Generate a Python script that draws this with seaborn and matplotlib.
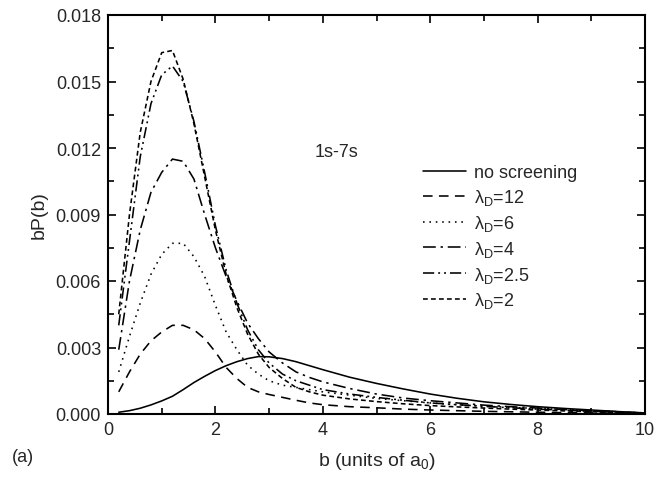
import numpy as np
import pandas as pd
import matplotlib
matplotlib.use("Agg")
import matplotlib.pyplot as plt
import seaborn as sns
from matplotlib.ticker import MultipleLocator, FormatStrFormatter

b = [0.2, 0.4, 0.6, 0.8, 1.0, 1.2, 1.4, 1.6, 1.8, 2.0, 2.2, 2.4, 2.6, 2.8, 3.0,
     3.25, 3.5, 3.75, 4.0, 4.5, 5.0, 5.5, 6.0, 6.5, 7.0, 7.5, 8.0, 8.5, 9.0, 9.5, 10.0]

no_screening = [0.00008, 0.00015, 0.00026, 0.00041, 0.00059, 0.00080, 0.00110, 0.00142, 0.00170,
                0.00196, 0.00218, 0.00236, 0.00250, 0.00259, 0.00258, 0.00250, 0.00236, 0.00218,
                0.00200, 0.00166, 0.00138, 0.00113, 0.00090, 0.00071, 0.00055, 0.00043, 0.00033,
                0.00025, 0.00018, 0.00011, 0.00004]
lam12 = [0.0010, 0.0019, 0.0027, 0.0033, 0.0037, 0.0040, 0.0040, 0.0038, 0.0034, 0.0028,
         0.0021, 0.0016, 0.0012, 0.00100, 0.00088, 0.00075, 0.00062, 0.00050, 0.00042, 0.00033,
         0.00028, 0.00022, 0.00018, 0.00015, 0.00012, 0.00010, 0.00008, 0.00006, 0.00005,
         0.00004, 0.00003]
lam6 = [0.0019, 0.0035, 0.0050, 0.0063, 0.0072, 0.0077, 0.0077, 0.0071, 0.0062, 0.0049,
        0.0037, 0.0029, 0.0022, 0.0018, 0.0015, 0.0013, 0.0012, 0.0011, 0.0010, 0.00085,
        0.00070, 0.00060, 0.00050, 0.00042, 0.00035, 0.00030, 0.00025, 0.00020, 0.00015,
        0.00010, 0.00005]
lam4 = [0.0029, 0.0060, 0.0083, 0.0100, 0.0109, 0.0115, 0.0114, 0.0106, 0.0090, 0.0075,
        0.0062, 0.0051, 0.0041, 0.0034, 0.0028, 0.0023, 0.0019, 0.00165, 0.00145, 0.00115,
        0.00090, 0.00072, 0.00060, 0.00050, 0.00040, 0.00033, 0.00027, 0.00020, 0.00015,
        0.00010, 0.00005]
lam25 = [0.0040, 0.0078, 0.0116, 0.0140, 0.0153, 0.0157, 0.0150, 0.0132, 0.0109, 0.0085,
         0.0065, 0.0050, 0.0038, 0.0029, 0.0023, 0.0018, 0.0015, 0.0013, 0.0011, 0.00090,
         0.00075, 0.00062, 0.00050, 0.00042, 0.00035, 0.00028, 0.00022, 0.00017, 0.00012,
         0.00008, 0.00004]
lam2 = [0.0045, 0.0090, 0.0127, 0.0150, 0.0163, 0.0164, 0.0151, 0.0131, 0.0107, 0.0083,
        0.0063, 0.0048, 0.0036, 0.0027, 0.0021, 0.0016, 0.0012, 0.0010, 0.00085, 0.00068,
        0.00056, 0.00046, 0.00038, 0.00032, 0.00027, 0.00022, 0.00018, 0.00014, 0.00010,
        0.00007, 0.00004]

labels = ["no screening", "λ$_{\\mathrm{D}}$=12", "λ$_{\\mathrm{D}}$=6",
          "λ$_{\\mathrm{D}}$=4", "λ$_{\\mathrm{D}}$=2.5", "λ$_{\\mathrm{D}}$=2"]
series = [no_screening, lam12, lam6, lam4, lam25, lam2]
styles = ["-", (0, (6, 4)), (0, (1, 3)), (0, (8, 3, 1.5, 3)),
          (0, (7, 2.5, 1.2, 2.5, 1.2, 2.5)), (0, (3, 2))]

sns.set_style("ticks")
plt.rcParams["font.family"] = ["Liberation Sans", "DejaVu Sans"]
plt.rcParams["mathtext.fontset"] = "custom"
plt.rcParams["mathtext.rm"] = "Liberation Sans"
plt.rcParams["mathtext.it"] = "Liberation Sans:italic"

fig = plt.figure(figsize=(6.67, 4.85), dpi=100)
ax = fig.add_axes([108 / 667, 70 / 485, 537 / 667, 399 / 485])

for vals, lab, ls in zip(series, labels, styles):
    df = pd.DataFrame({"b": b, "v": vals})
    sns.lineplot(data=df, x="b", y="v", ax=ax, color="black", linestyle=ls,
                 linewidth=1.15, label=lab, sort=False, estimator=None)

ax.set_xlim(0, 10)
ax.set_ylim(0, 0.018)
ax.xaxis.set_major_locator(MultipleLocator(2))
ax.xaxis.set_minor_locator(MultipleLocator(1))
ax.yaxis.set_major_locator(MultipleLocator(0.003))
ax.yaxis.set_minor_locator(MultipleLocator(0.0015))
ax.yaxis.set_major_formatter(FormatStrFormatter("%.3f"))
ax.xaxis.set_major_formatter(FormatStrFormatter("%d"))
ax.tick_params(which="both", direction="in", top=True, right=True, labelsize=13,
               width=1.2, color="black")
ax.tick_params(which="major", length=6, pad=5)
ax.tick_params(which="minor", length=4)
for sp in ax.spines.values():
    sp.set_visible(True)
    sp.set_linewidth(1.5)
    sp.set_color("black")

ax.set_xlabel(r"b (units of a$_{\mathrm{0}}$)", fontsize=14, labelpad=9)
ax.set_ylabel("bP(b)", fontsize=14, labelpad=6)
ax.text(0.425, 0.658, "1s-7s", transform=ax.transAxes, fontsize=13, ha="center", va="center")
fig.text(12 / 667, 1 - 458 / 485, "(a)", fontsize=13, ha="left", va="center")

leg = ax.legend(loc="upper left", bbox_to_anchor=(0.57, 0.648), frameon=False, fontsize=13,
                handlelength=2.4, handletextpad=0.4, labelspacing=0.32, borderpad=0)

fig.savefig("out.png", dpi=100)
